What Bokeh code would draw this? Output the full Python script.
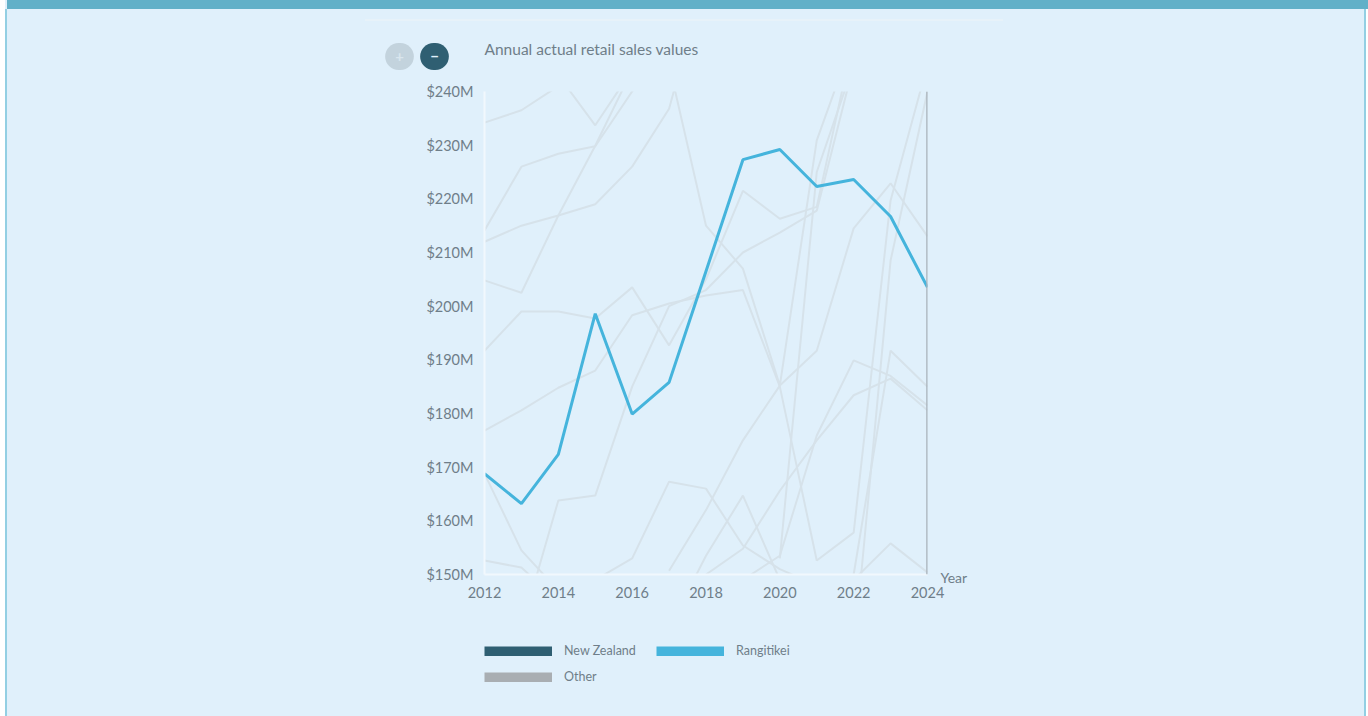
from bokeh.plotting import figure
from bokeh.embed import file_html
from bokeh.resources import INLINE
from bokeh.models import Label, Legend, LegendItem, Range1d, FixedTicker, PrintfTickFormatter, Span

years = list(range(2012, 2025))
rangitikei = [168.8, 163.2, 172.4, 198.6, 179.9, 185.8, 206.5, 227.3, 229.2, 222.3, 223.6, 216.7, 203.5]

N = None
# Series named in the legend whose values lie outside the picture: nothing to read.
no_values = [N] * 13
other_a = [234.2, 236.5, 241, 250, N, N, N, N, N, N, N, N, N]
other_b = [214.1, 226, 228.4, 229.8, 240, 250, N, N, N, N, N, N, N]
other_c = [212, 215, 216.9, 219, 226, 236.8, 262, N, N, N, N, N, N]
other_d = [204.8, 202.5, 216.9, 229.9, 244, N, N, N, N, N, N, N, N]
other_e = [N, N, 243, 233.7, 244, N, N, N, N, N, N, N, N]
other_f = [191.7, 199, 199, 197.7, 203.5, 192.7, 205, 221.5, 216.3, 218.5, 250, N, N]
other_g = [176.8, 180.6, 184.8, 188, 198.3, 200.5, 202, 203, 185, 152.6, 157.8, 219.7, 245]
other_h = [168.8, 154.5, 147, N, N, N, N, N, N, N, N, N, N]
other_i = [152.6, 151.3, 145, N, N, N, N, N, N, N, N, N, N]
other_j = [N, 140, 163.8, 164.7, 185, 200, 203, 210, 213.7, 217.8, 245, N, N]
other_k = [N, N, N, 149, 153, 167.3, 166, 155.4, 151, 148, N, N, N]
other_l = [N, N, N, N, N, 150.7, 162, 175, 185.2, 191.7, 214.5, 222.9, 213]
other_m = [N, N, N, N, N, 140, 153.5, 164.7, 149, N, N, N, N]
other_n = [N, N, N, N, N, N, 150, 154.8, 165.6, 175, 183.4, 186.5, 180.6]
other_o = [N, N, N, N, N, N, N, 149, 153.5, 175.9, 189.9, 187, 181.5]
other_p = [N, N, N, N, N, 245, 215, 207, 185.2, 230.9, 250, N, N]
other_q = [N, N, N, N, N, N, N, N, 153, 225, 245, N, N]
other_r = [N, N, N, N, N, N, N, N, N, N, 150, 191.7, 185]
other_s = [N, N, N, N, N, N, N, N, N, N, 149, 155.8, 150.4]
other_t = [N, N, N, N, N, N, N, N, N, N, 135, 208.5, 240]
others = [other_a, other_b, other_c, other_d, other_e, other_f, other_g, other_h, other_i, other_j,
          other_k, other_l, other_m, other_n, other_o, other_p, other_q, other_r, other_s, other_t]

x_ticks = [2012, 2014, 2016, 2018, 2020, 2022, 2024]
y_ticks = [150, 160, 170, 180, 190, 200, 210, 220, 230, 240]

BG = "#e0f0fb"
TEXT = "#6f7e89"
FONT = "Lato"


def nan(values):
    return [float("nan") if v is None else v for v in values]


def band(color, x, y, w, h):
    return f"linear-gradient({color},{color}) {x}px {y}px/{w}px {h}px no-repeat"


page_background = ",".join([
    band("#e7f2f9", 365, 19, 638, 2),
    band("#62b0c8", 7, 0, 1361, 9),
    band("#93cfe3", 5, 9, 2, 707),
    band("#93cfe3", 1364, 9, 2, 707),
    band("#ffffff", 0, 0, 5, 716),
    band("#ffffff", 1366, 9, 2, 707),
]) + "," + BG

p = figure(width=1368, height=716, frame_width=443, frame_height=483,
           output_backend="svg", toolbar_location=None,
           x_range=Range1d(2012, 2024), y_range=Range1d(150, 240),
           min_border_left=484, min_border_right=441, min_border_top=91, min_border_bottom=142,
           background_fill_color=None, border_fill_color=None, outline_line_color=None,
           styles={"background": page_background})
p.grid.visible = False

p.xaxis.ticker = FixedTicker(ticks=x_ticks)
p.yaxis.ticker = FixedTicker(ticks=y_ticks)
p.yaxis.formatter = PrintfTickFormatter(format="$%dM")
for ax in (p.xaxis[0], p.yaxis[0]):
    ax.axis_line_color = "#f1f8fd"
    ax.axis_line_width = 2
    ax.major_tick_line_color = None
    ax.minor_tick_line_color = None
    ax.major_label_text_color = TEXT
    ax.major_label_text_font = FONT
    ax.major_label_text_font_size = "14.5px"
p.xaxis.major_label_standoff = 6
p.yaxis.major_label_standoff = 5

for s in others:
    p.line(years, nan(s), line_color="#d6e2ea", line_width=2)

p.add_layout(Span(location=2024, dimension="height", line_color="#a8b2ba", line_width=2.5))

r_r = p.line(years, rangitikei, line_color="#45b4dc", line_width=3)
r_nz = p.line(years, nan(no_values), line_color="#2f5f72", line_width=10)
r_leg = p.line(years, nan(no_values), line_color="#45b4dc", line_width=10)
r_o = p.line(years, nan(no_values), line_color="#a9aeb2", line_width=10)

legend = Legend(items=[LegendItem(label="New Zealand", renderers=[r_nz]),
                       LegendItem(label="Rangitikei", renderers=[r_leg]),
                       LegendItem(label="Other", renderers=[r_o])],
                orientation="horizontal", ncols=2, location=(-443, -110), glyph_width=68, glyph_height=10,
                label_text_font=FONT, label_text_font_size="12.5px", label_text_color=TEXT,
                background_fill_alpha=0, border_line_color=None, padding=0, margin=0,
                spacing=11, label_standoff=12, label_height=10, label_width=81)
p.add_layout(legend, "right")


def canvas_label(side, text, x, y, **kw):
    p.add_layout(Label(x=x, y=y, x_units="canvas", y_units="canvas", text=text,
                       text_font=FONT, **kw), side)


canvas_label("above", "Annual actual retail sales values", 484, 48, text_font_size="15.5px",
             text_color=TEXT, text_baseline="middle")
canvas_label("right", "Year", 940, 577, text_font_size="14px", text_color=TEXT, text_baseline="middle")

for ch, xc, fill, col in (("+", 399, "#c3d3dd", "#d9e6ee"), ("\u2212", 434, "#2f5f72", "#e0f0fb")):
    canvas_label("above", ch, xc, 56, text_font_size="15px", text_color=col, text_font_style="bold",
                 text_align="center", text_baseline="middle",
                 background_fill_color=fill, border_radius=14, padding=(10, 8))

open("out.html", "w").write(file_html(p, INLINE))
